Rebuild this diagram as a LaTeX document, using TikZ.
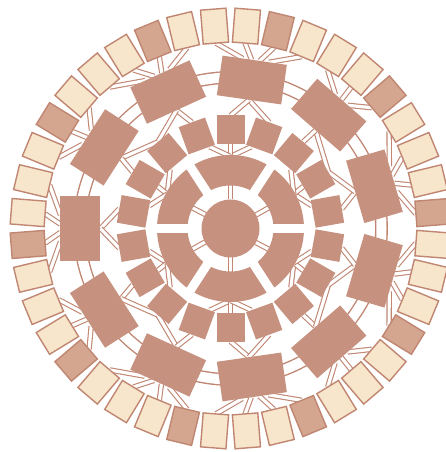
\documentclass[tikz,border=0pt]{standalone}
\usetikzlibrary{backgrounds,calc}
\definecolor{terra}{RGB}{199,145,127}
\definecolor{cream}{RGB}{247,230,203}
\definecolor{dusk}{RGB}{212,166,143}
\definecolor{edgec}{RGB}{192,134,114}
\begin{document}
\begin{tikzpicture}[x=1pt,y=1pt,
  blk/.style={fill=terra, draw=none, inner sep=0pt, outer sep=0pt, rectangle},
  bigblk/.style={blk, minimum width=65, minimum height=40},
  midblk/.style={blk, minimum width=28, minimum height=29},
  obox/.style={rectangle, draw=edgec, line width=1.4, fill=cream, inner sep=0pt, outer sep=0pt, minimum width=25.5, minimum height=34},
  darkbox/.style={obox, fill=dusk},
  wire/.style={draw=edgec, line width=1.1, double=white, double distance=3.2},
  bus/.style={draw=edgec, line width=1.4, double=white, double distance=10}
]
\useasboundingbox (-230.5,-223.5) rectangle (215.5,228.5);

% centre disk
\node[blk, circle, minimum size=58] (D) at (0,0) {};

% first ring of six segments
\fill[terra, even odd rule] (0,0) circle (73.5) (0,0) circle (43);
\foreach \g in {0,57,123,180,237,303}
  \draw[white, line width=9] (\g:40) -- (\g:75);
\foreach \s/\t in {1/28.5,2/90,3/151.5,4/208.5,5/270,6/331.5} {
  \coordinate (S\s) at (\t:72);
  \coordinate (T\s) at (\t:44);
}

% second ring: 18 blocks
\foreach \j in {0,...,17} {
  \pgfmathsetmacro\a{10+20*\j}
  \node[midblk, rotate=\a-90] (M\j) at (\a:98.5) {};
}

% third ring: 11 large blocks
\foreach \k in {0,...,10} {
  \pgfmathsetmacro\a{180+360/11*\k}
  \node[bigblk, rotate=\a-90] (L\k) at (\a:150) {};
}

% outer ring: 40 boxes
\foreach \j in {0,...,39} {
  \pgfmathsetmacro\a{4.5+9*\j}
  \pgfmathtruncatemacro\m{mod(\j,4)}
  \ifnum\m=0
    \node[darkbox, rotate=\a-90] (O\j) at (\a:203) {};
  \else
    \node[obox, rotate=\a-90] (O\j) at (\a:203) {};
  \fi
}

\begin{pgfonlayer}{background}
  % ring bus through the large blocks
  \draw[bus] (0,0) circle (151);
  % disk to first ring
  \foreach \s/\t in {1/28.5,2/90,3/151.5,4/208.5,5/270,6/331.5}
    \draw[wire] (D.\t) -- (T\s);
  % first ring to second ring
  \foreach \s in {1,...,6} {
    \foreach \o/\an in {0/240,1/270,2/300} {
      \pgfmathtruncatemacro\j{3*(\s-1)+\o}
      \draw[wire] (S\s) -- (M\j.\an);
    }
  }
  % large blocks to second ring
  \foreach \k/\j in {0/8,0/9,1/10,1/11,2/11,2/12,3/13,3/14,4/15,4/16,5/16,5/17,
                     6/0,6/1,7/1,7/2,8/3,8/4,9/5,9/6,10/6,10/7}
    \draw[wire] (L\k.south) -- (M\j.north);
  % large blocks to outer boxes
  \foreach \k/\js in {6/{0,1,2,3},7/{4,5,6},8/{7,8,9,10},9/{11,12,13,14},
                      10/{15,16,17},0/{18,19,20,21},1/{22,23,24},2/{25,26,27,28},
                      3/{29,30,31,32},4/{33,34,35},5/{36,37,38,39}} {
    \foreach \j in \js {
      \pgfmathsetmacro\tb{mod(180+360/11*\k,360)}
      \pgfmathtruncatemacro\an{90+2.5*(4.5+9*\j-\tb)}
      \draw[wire] (L\k.\an) -- (O\j.south);
    }
  }
\end{pgfonlayer}
\end{tikzpicture}
\end{document}
